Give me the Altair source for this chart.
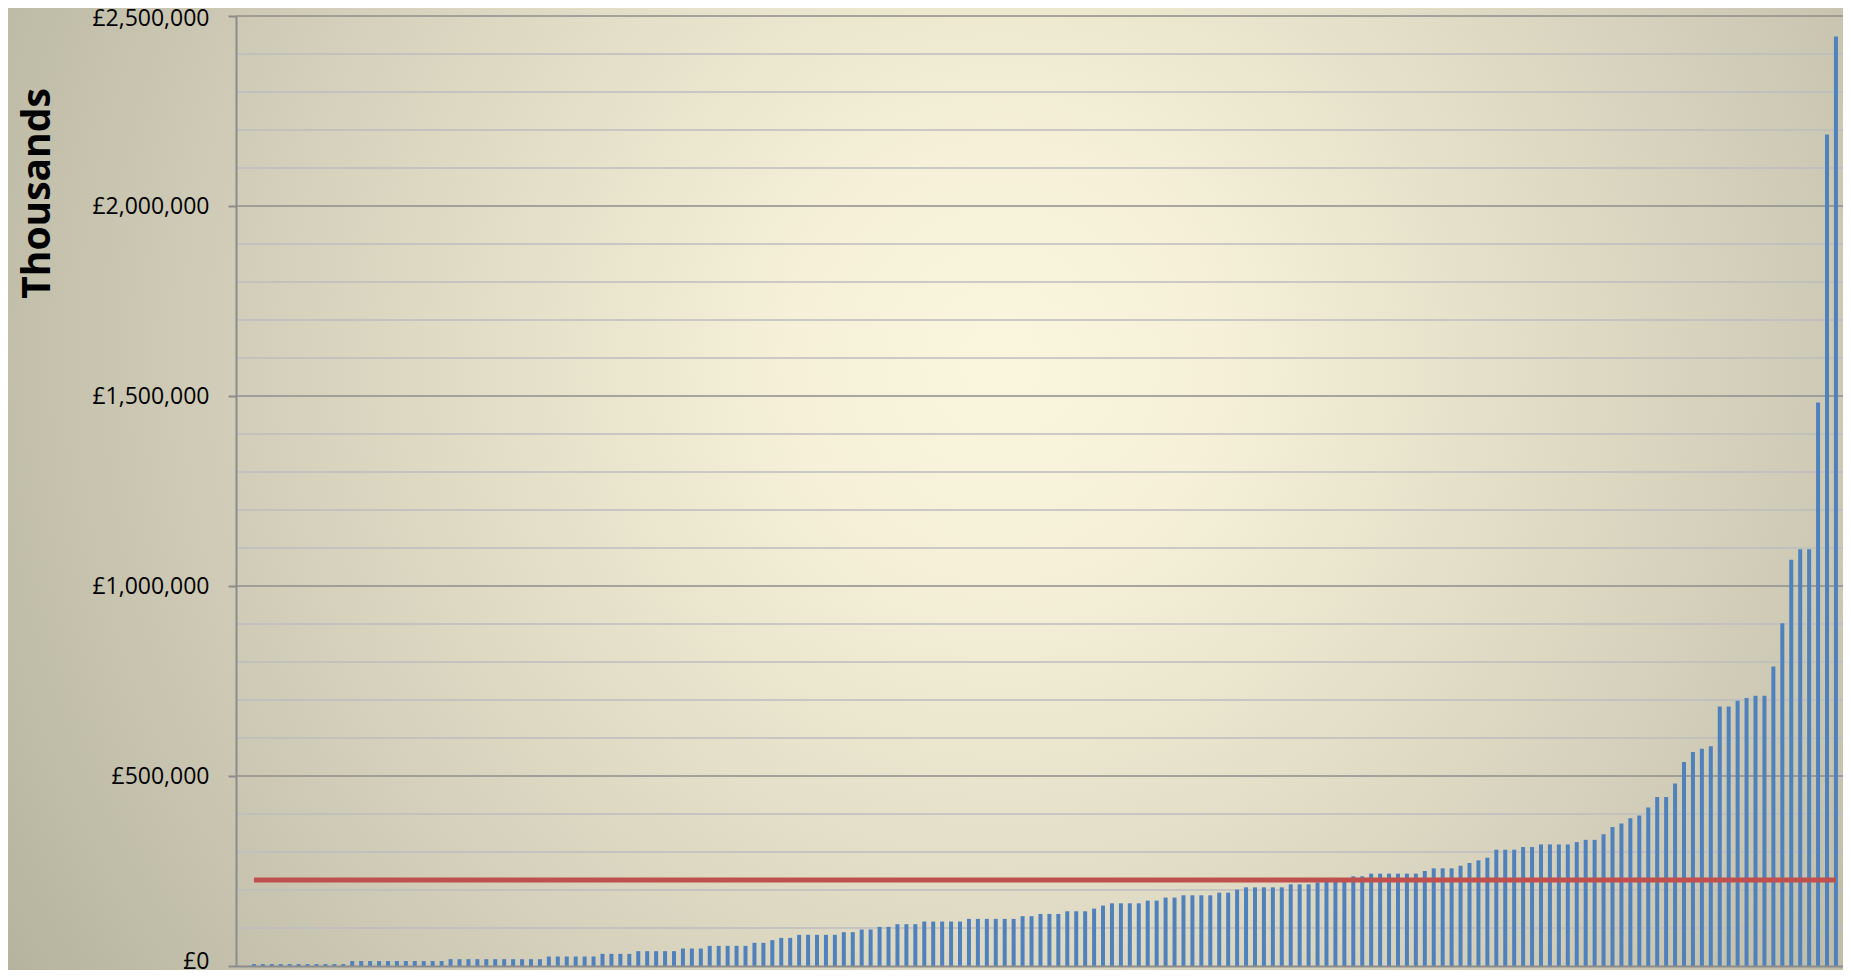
import altair as alt
import pandas as pd

# ---- data (sorted values, in £) ----
VALUES = [
    5000, 5000, 5000, 5000, 5000, 5000, 5000, 5000, 5000, 5000, 5000,
    13000, 13000, 13000, 13000, 13000, 13000, 13000, 13000, 13000, 13000, 13000,
    18000, 18000, 18000, 18000, 18000, 18000, 18000, 18000, 18000, 18000, 18000,
    25000, 25000, 25000, 25000, 25000, 25000,
    32000, 32000, 32000, 32000,
    39000, 39000, 39000, 39000, 39000,
    46000, 46000, 46000,
    53000, 53000, 53000, 53000, 53000,
    61000, 61000,
    68000,
    74000, 74000,
    82000, 82000, 82000, 82000, 82000,
    89000, 89000,
    96000, 96000,
    103000, 103000,
    110000, 110000, 110000,
    117000, 117000, 117000, 117000, 117000,
    124000, 124000, 124000, 124000, 124000, 124000,
    131000, 131000,
    137000, 137000, 137000,
    144000, 144000, 144000,
    151000,
    159000,
    165000, 165000, 165000, 165000,
    172000, 172000,
    180000, 180000,
    186000, 186000, 186000, 186000,
    193000, 193000,
    201000,
    207000, 207000, 207000, 207000, 207000,
    215000, 215000, 215000,
    220000, 222000, 224000, 226000,
    236000, 236000,
    243000, 243000, 243000, 243000, 243000, 243000,
    250000,
    257000, 257000, 257000,
    264000,
    271000,
    278000,
    285000,
    306000, 306000, 306000,
    313000, 313000,
    320000, 320000, 320000, 320000,
    326000,
    332000, 332000, 347000, 366000, 375000, 389000, 396000, 417000,
    445000, 445000, 480000, 537000, 563000, 572000, 578000,
    683000, 683000, 698000, 705000, 711000, 711000, 788000, 902000,
    1069000, 1097000, 1097000, 1483000, 2188000, 2446000,
]
CATEGORIES = list(range(1, len(VALUES) + 1))
AVERAGE = [226000]
Y_TICKS = [0, 500000, 1000000, 1500000, 2000000, 2500000]
MAJOR_GRID = [500000, 1000000, 1500000, 2000000, 2500000]
MINOR_GRID = [100000, 200000, 300000, 400000,
              600000, 700000, 800000, 900000,
              1100000, 1200000, 1300000, 1400000,
              1600000, 1700000, 1800000, 1900000,
              2100000, 2200000, 2300000, 2400000]

W, H = 1607, 950
PAD_L, PAD_T, PAD_R, PAD_B = 228, 8, 0, 4

df = pd.DataFrame({"idx": CATEGORIES, "value": VALUES})
avg_df = pd.DataFrame({"start": [CATEGORIES[0]], "end": [CATEGORIES[-1]], "avg": AVERAGE})

xscale = alt.Scale(domain=[-0.445, 178.23], nice=False, zero=False)
yscale = alt.Scale(domain=[0, 2500000], nice=False)

FONT = "Open Sans"
GREY = "#8C8C8C"

X_AXIS = alt.Axis(title="", labels=False, ticks=False, grid=False,
                  domainColor=GREY, domainWidth=2, zindex=1)
Y_AXIS = alt.Axis(values=Y_TICKS, grid=False,
                  labelExpr="'£' + format(datum.value, ',')",
                  labelFont=FONT, labelFontSize=23, labelColor="#000000",
                  labelPadding=19, labelFlush=False, labelOverlap=False,
                  labelOffset={"condition": [{"test": "datum.value == 0", "value": -5},
                                             {"test": "datum.value == 2500000", "value": 2}],
                               "value": 0},
                  tickSize=8, tickColor=GREY, tickWidth=2,
                  domainColor=GREY, domainWidth=2,
                  title="Thousands", titleFont=FONT, titleFontSize=39,
                  titleFontWeight="bold", titleColor="#000000",
                  titleAngle=270, titleAlign="center", titleBaseline="alphabetic",
                  titleX=-187, titleY=177, zindex=1)

gradient = {
    "gradient": "radial",
    "x1": 0.542, "y1": 0.43, "r1": 0,
    "x2": 0.542, "y2": 0.43, "r2": 0.7,
    "stops": [
        {"offset": 0.0, "color": "#FAF5DD"},
        {"offset": 0.17, "color": "#F5F0D7"},
        {"offset": 0.3, "color": "#EBE6CE"},
        {"offset": 0.57, "color": "#D4D0BB"},
        {"offset": 0.78, "color": "#C1BEAA"},
        {"offset": 1.0, "color": "#ADAA96"},
    ],
}

bg = alt.Chart(pd.DataFrame({"k": [0]})).mark_rect(fill=gradient, strokeWidth=0).encode(
    x=alt.value(-PAD_L), x2=alt.value(W + PAD_R),
    y=alt.value(-PAD_T), y2=alt.value(H + PAD_B),
)

minor = alt.Chart(pd.DataFrame({"v": MINOR_GRID})).mark_rule(
    color="#BDBDC0", strokeWidth=1.6
).encode(y=alt.Y("v:Q", scale=yscale, axis=Y_AXIS))

major = alt.Chart(pd.DataFrame({"v": MAJOR_GRID})).mark_rule(
    color="#8E8E8C", strokeWidth=1.6
).encode(y=alt.Y("v:Q", scale=yscale, axis=Y_AXIS))

bars = alt.Chart(df).mark_bar(color="#4F81BD", width=4).encode(
    x=alt.X("idx:Q", scale=xscale, axis=X_AXIS),
    y=alt.Y("value:Q", scale=yscale, axis=Y_AXIS),
)

red = alt.Chart(avg_df).mark_rule(color="#C0504D", strokeWidth=5).encode(
    x=alt.X("start:Q", scale=xscale, axis=X_AXIS),
    x2="end:Q",
    y=alt.Y("avg:Q", scale=yscale, axis=Y_AXIS),
)

chart = alt.layer(bg, minor, major, bars, red).properties(
    width=W, height=H,
    padding={"left": PAD_L, "top": PAD_T, "right": PAD_R, "bottom": PAD_B},
    autosize=alt.AutoSizeParams(type="none"),
    background="#C4C1AD",
).configure_view(strokeWidth=0)

chart.save("out.html", embed_options={"renderer": "svg", "actions": False})
